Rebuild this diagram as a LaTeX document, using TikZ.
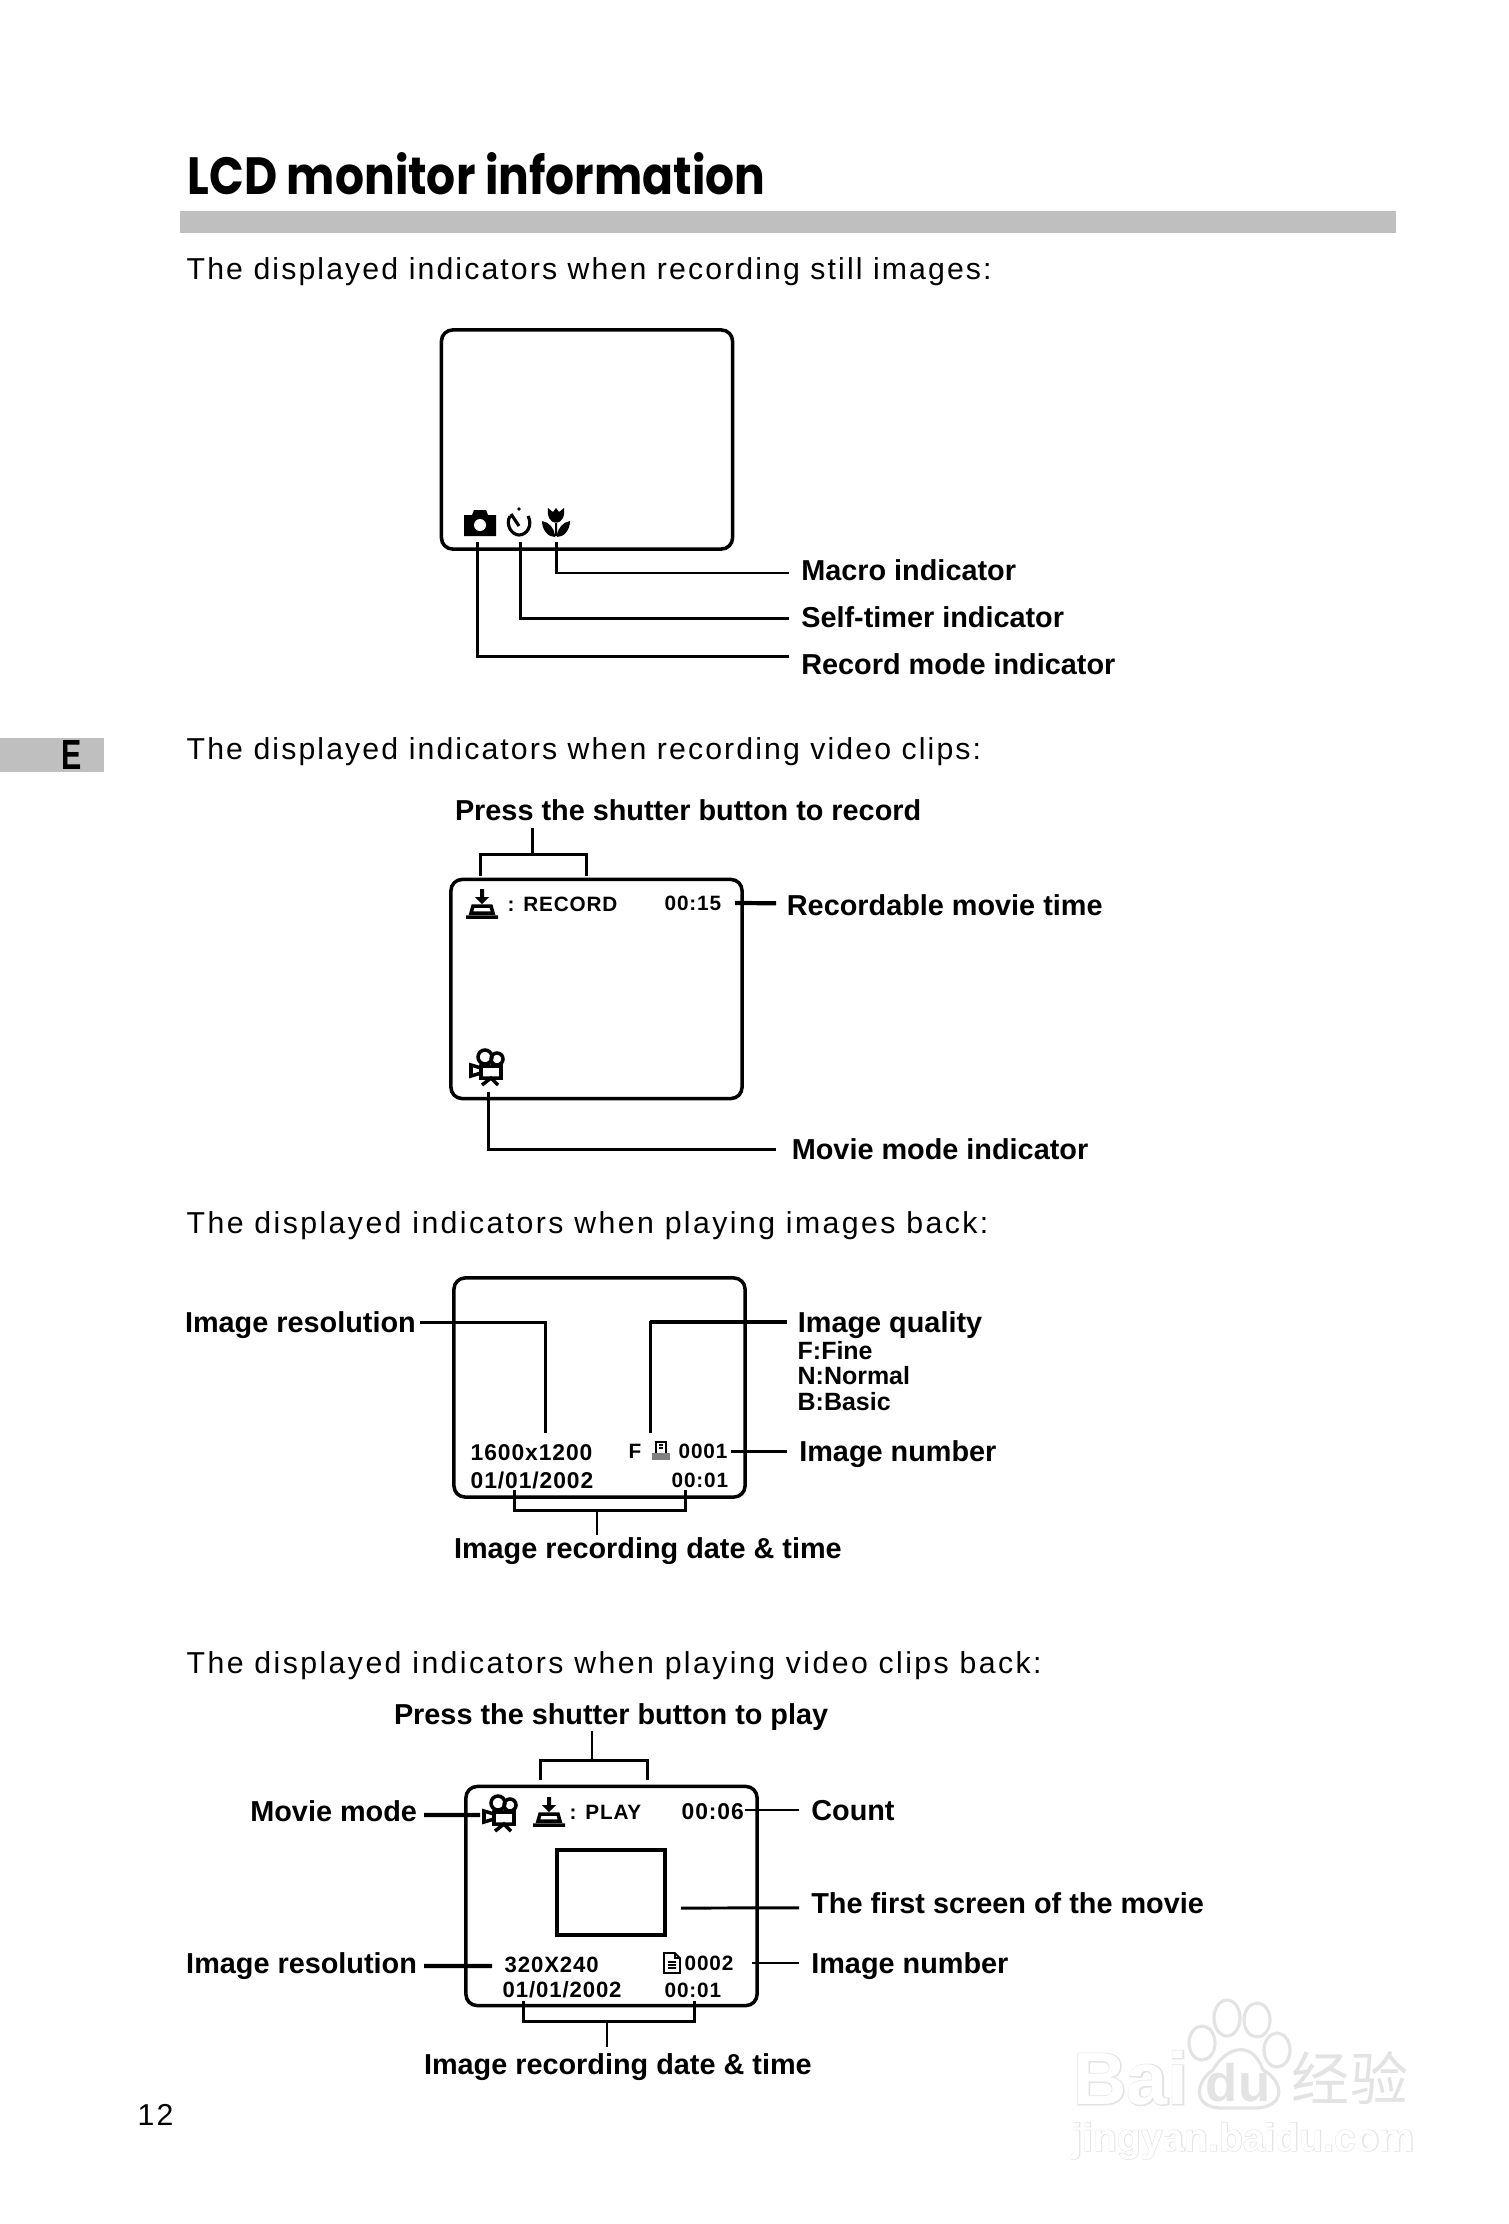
\documentclass[tikz,border=0pt]{standalone}
\usepackage{fontspec}
\usepackage{tikz}
\setmainfont{Liberation Sans}
\newfontfamily\bodyfont[LetterSpace=7]{Liberation Sans}
\newfontfamily\bodywide[LetterSpace=8]{Liberation Sans}
\newfontfamily\lcdfont[LetterSpace=4]{Liberation Sans}
\newfontfamily\headfont[FakeStretch=0.87]{Poppins}
\newfontfamily\tabfont[FakeStretch=0.72]{Liberation Sans Bold}
\newfontfamily\markfont[FakeBold=3]{Liberation Sans Bold}
\newfontfamily\markthin{Liberation Sans Bold}
\newfontfamily\cjk{Noto Sans CJK SC}

\begin{document}
\begin{tikzpicture}[x=0.01cm,y=-0.01cm,
    screen/.style={draw,line width=1pt,rounded corners=3.2pt,minimum width=2.91cm,minimum height=2.19cm,inner sep=0,outer sep=0},
    lead/.style={line width=0.85pt},
    leadh/.style={line width=1.2pt},
    leadt/.style={line width=0.6pt},
    lbl/.style={anchor=west,inner sep=0,outer xsep=3.5pt,font=\fontsize{8.2}{10}\selectfont\bfseries,text height=7.6pt,text depth=1.6pt},
    lbr/.style={lbl,anchor=east,outer xsep=2pt},
    sub/.style={anchor=west,inner sep=0,font=\fontsize{7.1}{9}\selectfont\bfseries},
    txt/.style={anchor=west,inner sep=0,font=\bodyfont\fontsize{8.6}{10}\selectfont},
    txw/.style={txt,font=\bodywide\fontsize{8.6}{10}\selectfont},
    lcd/.style={anchor=west,inner sep=0,font=\lcdfont\fontsize{5.9}{7}\selectfont\bfseries},
    lcdw/.style={lcd,font=\lcdfont\fontsize{6.5}{7}\selectfont\bfseries},
    lcdm/.style={lcd,font=\lcdfont\fontsize{6.3}{7}\selectfont\bfseries},
    wm/.style={inner sep=0,text=gray!22},
    wmw/.style={inner sep=0,text=white}]
    \useasboundingbox (0,0) rectangle (1508,2224);
    \def\cameraicon{(-16,-8) -- (-8,-8) -- (-6,-13) -- (6,-13) -- (8,-8) -- (16,-8) -- (16,13) -- (-16,13) -- cycle};
    \def\timericon{(-9,-7) .. controls (-14,2) and (-7,12) .. (0,12) .. controls (8,12) and (14,2) .. (9,-7) (-8,-9) -- (0,3)};
    \def\tulipicon{(-8,-14) -- (-3,-10) -- (0,-14) -- (3,-10) -- (8,-14) .. controls (9,-5) and (6,0) .. (0,1) .. controls (-6,0) and (-9,-5) .. (-8,-14) (-14,-1) .. controls (-7,0) and (-2,6) .. (-1,13) -- (-1,15) .. controls (-8,15) and (-14,8) .. (-14,-1) (14,-1) .. controls (7,0) and (2,6) .. (1,13) -- (1,15) .. controls (8,15) and (14,8) .. (14,-1) (-1,0) rectangle (1,14)};
    \def\arrowicon{(-2,-15) -- (2,-15) -- (2,-7) -- (7,-7) -- (0,0) -- (-7,-7) -- (-2,-7) -- cycle};
    \def\trayicon{(-9,2) -- (9,2) -- (11,9) -- (-11,9) -- cycle (-16,13) -- (16,13)};
    \def\movieicon{(-4,-10) circle (7) (8,-8) circle (6) (-8,-1) rectangle (12,11) (-8,1) -- (-18,-2) -- (-18,9) -- (-8,6) (-7,18) -- (2,11) -- (9,18)};
    \def\printicon{(-5,-9) rectangle (5,3) (-2,-6) -- (2,-6) (-2,-3) -- (2,-3)};
    \def\docicon{(-8,-10) -- (3,-10) -- (8,-5) -- (8,10) -- (-8,10) -- cycle (3,-10) -- (3,-5) -- (8,-5) (-4,-1) -- (4,-1) (-4,2) -- (4,2) (-4,5) -- (4,5)};

    \node[anchor=west,inner sep=0,font=\headfont\fontsize{14.9}{18}\selectfont\bfseries] (title) at (187,174) {LCD monitor information};
    \fill[gray!50!white] (180,211) rectangle (1396,233);
    \fill[gray!50!white] (0,738) rectangle (104,772);
    \node[inner sep=0,font=\tabfont\fontsize{12}{13}\selectfont] (tabE) at (72,755) {E};
    \node[txt] (capA) at (186,272) {The displayed indicators when recording still images:};
    \node[txt] (capB) at (186,752) {The displayed indicators when recording video clips:};
    \node[txw] (capC) at (186,1226) {The displayed indicators when playing images back:};
    \node[txw] (capD) at (186,1666) {The displayed indicators when playing video clips back:};
    \node[txt] (pageno) at (137,2115) {12};

    \node[screen] (scrA) at (587,439.5) {};
    \fill[shift={(480,523)}] \cameraicon;
    \fill[white] (480,525) circle (6);
    \draw[line width=0.9pt,shift={(519,523)}] \timericon;
    \fill (519,509) circle (1.8);
    \fill[shift={(556,522)}] \tulipicon;
    \coordinate (camS) at (477,542);
    \coordinate (timS) at (520,542);
    \coordinate (tulS) at (556,542);
    \node[lbl] (lblMacro) at (789,570) {Macro indicator};
    \node[lbl] (lblSelf) at (789,617) {Self-timer indicator};
    \node[lbl] (lblRec) at (789,664) {Record mode indicator};
    \draw[lead] (tulS) |- ([yshift=-0.85pt]lblMacro.west);
    \draw[lead] (timS) |- ([yshift=-0.3pt]lblSelf.west);
    \draw[lead] (camS) |- ([yshift=2pt]lblRec.west);

    \node[screen] (scrB) at (596.5,989) {};
    \fill[shift={(482,904)}] \arrowicon;
    \draw[line width=1pt,shift={(482,904)}] \trayicon;
    \node[lcd] (txtRec) at (507,904) {: RECORD};
    \node[lcd] (txtTimeB) at (664,903) {00:15};
    \draw[line width=1pt,shift={(489,1067)}] \movieicon;
    \coordinate (pressL) at (480,876);
    \coordinate (pressR) at (586,876);
    \coordinate (pressT) at (532,854);
    \coordinate (pressS) at (532,828);
    \coordinate (timeB) at (735,903);
    \coordinate (movS) at (488,1092);
    \node[lbl,outer xsep=0] (lblPress) at (455,810) {Press the shutter button to record};
    \node[lbl,outer xsep=3.1pt] (lblTime) at (776,905) {Recordable movie time};
    \node[lbl,outer xsep=4.5pt] (lblMov) at (776,1149) {Movie mode indicator};
    \draw[lead] (pressL) |- (pressT) -| (pressR);
    \draw[lead] (pressT) -- (pressS);
    \draw[leadh] (timeB) -- ([yshift=0.5pt]lblTime.west);
    \draw[lead] (movS) |- (lblMov.west);

    \node[screen] (scrC) at (599.5,1387.5) {};
    \node[lcdw] (txtRes) at (470,1453) {1600x1200};
    \node[lcdw] (txtDateC) at (470,1480) {01/01/2002};
    \node[lcd] (txtQual) at (628,1451) {F};
    \draw[line width=0.5pt,shift={(661,1451)}] \printicon;
    \fill[gray] (652,1453) rectangle (670,1460);
    \node[lcd] (txtNum) at (678,1451) {0001};
    \node[lcd] (txtClockC) at (671,1480) {00:01};
    \coordinate (resS) at (545,1433);
    \coordinate (qualS) at (650,1433);
    \coordinate (numE) at (731,1451);
    \coordinate (dateL) at (514,1490);
    \coordinate (dateR) at (685,1490);
    \coordinate (dateB) at (597,1510);
    \coordinate (dateS) at (597,1535);
    \node[lbr,outer xsep=1.2pt] (lblRes) at (420,1322) {Image resolution};
    \node[lbl,outer xsep=3.1pt] (lblQual) at (787,1322) {Image quality};
    \node[sub] (subF) at (797,1351) {F:Fine};
    \node[sub] (subN) at (797,1376) {N:Normal};
    \node[sub] (subB) at (797,1402) {B:Basic};
    \node[lbl] (lblNum) at (787,1451) {Image number};
    \node[lbl,outer xsep=0] (lblDate) at (454,1548) {Image recording date \& time};
    \draw[lead] (lblRes.east) -| (resS);
    \draw[lead] (qualS) |- (lblQual.west);
    \draw[leadh] (qualS|-lblQual.west) -- (lblQual.west);
    \draw[lead] (numE) -- (lblNum.west);
    \draw[lead] (dateL) |- (dateB) -| (dateR);
    \draw[leadt] (dateB) -- (dateS);

    \node[screen] (scrD) at (611.5,1896) {};
    \draw[line width=1pt,shift={(502,1813)}] \movieicon;
    \fill[shift={(549,1812)}] \arrowicon;
    \draw[line width=1pt,shift={(549,1812)}] \trayicon;
    \node[lcd] (txtPlay) at (569,1812) {: PLAY};
    \node[lcdw] (txtCount) at (681,1812) {00:06};
    \node[draw,line width=1pt,minimum width=1.08cm,minimum height=0.85cm,inner sep=0] (firstScr) at (611,1892.5) {};
    \node[lcdm] (txtResD) at (504,1965) {320X240};
    \draw[line width=0.5pt,shift={(672,1963)}] \docicon;
    \node[lcd] (txtNumD) at (684,1963) {0002};
    \node[lcdm] (txtDateD) at (502,1990) {01/01/2002};
    \node[lcd] (txtClockD) at (664,1990) {00:01};
    \coordinate (playL) at (540,1780);
    \coordinate (playR) at (647,1780);
    \coordinate (playT) at (592,1760);
    \coordinate (playS) at (592,1731);
    \coordinate (modeE) at (480,1815);
    \coordinate (countW) at (745,1810);
    \coordinate (firstW) at (681,1908);
    \coordinate (resE) at (492,1966);
    \coordinate (numW) at (752,1963);
    \coordinate (stampL) at (523,2001);
    \coordinate (stampR) at (694,2001);
    \coordinate (stampB) at (607,2021);
    \coordinate (stampS) at (607,2047);
    \node[lbl,outer xsep=0] (lblPlay) at (394,1714) {Press the shutter button to play};
    \node[lbr] (lblMode) at (424,1811) {Movie mode};
    \node[lbl] (lblCount) at (799,1810) {Count};
    \node[lbl] (lblFirst) at (799,1903) {The first screen of the movie};
    \node[lbr] (lblResD) at (424,1963) {Image resolution};
    \node[lbl] (lblNumD) at (799,1963) {Image number};
    \node[lbl,outer xsep=0] (lblStamp) at (424,2064) {Image recording date \& time};
    \draw[lead] (playL) |- (playT) -| (playR);
    \draw[leadt] (playT) -- (playS);
    \draw[leadh] ([yshift=-1.1pt]lblMode.east) -- (modeE);
    \draw[leadt] (countW) -- (lblCount.west);
    \draw[lead] (firstW) -- ([yshift=-1.4pt]lblFirst.west);
    \draw[leadh] ([yshift=-0.85pt]lblResD.east) -- (resE);
    \draw[leadt] (numW) -- (lblNumD.west);
    \draw[lead] (stampL) |- (stampB) -| (stampR);
    \draw[leadt] (stampB) -- (stampS);

    \draw[gray!22,line width=0.9pt] (1202,2043) ellipse (13 and 17) (1227,2018) ellipse (13 and 18) (1257,2020) ellipse (13 and 17) (1277,2050) ellipse (13 and 17);
    \draw[gray!22,line width=0.9pt] (1222,2108) .. controls (1192,2108) and (1195,2082) .. (1213,2070) .. controls (1222,2052) and (1250,2035) .. (1263,2070) .. controls (1285,2082) and (1286,2108) .. (1254,2108) -- cycle;
    \node[wm,font=\markfont\fontsize{21}{26}\selectfont] (wmBai) at (1131,2078) {Bai};
    \node[wmw,font=\markthin\fontsize{21}{26}\selectfont] (wmBaiIn) at (1131,2078) {Bai};
    \node[wm,font=\markthin\fontsize{15}{17}\selectfont] (wmDu) at (1238,2083) {du};
    \node[wm,font=\cjk\fontsize{16.5}{18}\selectfont] (wmJy) at (1350,2078) {经验};
    \node[wm,font=\markfont\fontsize{11.1}{15}\selectfont] (wmUrl) at (1243,2141) {jingyan.baidu.com};
    \node[wmw,font=\markthin\fontsize{11.1}{15}\selectfont] (wmUrlIn) at (1243,2141) {jingyan.baidu.com};
\end{tikzpicture}
\end{document}
